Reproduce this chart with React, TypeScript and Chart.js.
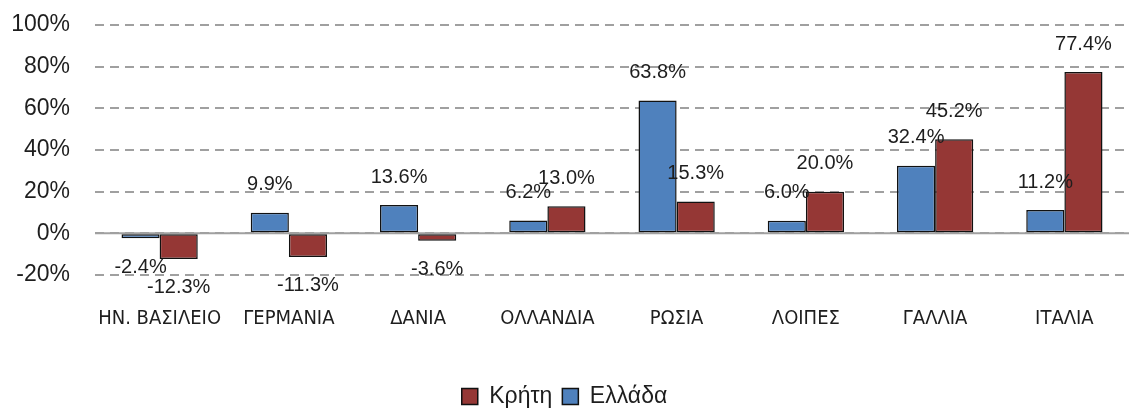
import React, { useEffect, useRef } from "react";
import { Chart, registerables } from "chart.js";

Chart.register(...registerables);

const categories = [
  "ΗΝ. ΒΑΣΙΛΕΙΟ",
  "ΓΕΡΜΑΝΙΑ",
  "ΔΑΝΙΑ",
  "ΟΛΛΑΝΔΙΑ",
  "ΡΩΣΙΑ",
  "ΛΟΙΠΕΣ",
  "ΓΑΛΛΙΑ",
  "ΙΤΑΛΙΑ",
];
const ellada = [-2.4, 9.9, 13.6, 6.2, 63.8, 6.0, 32.4, 11.2];
const kriti = [-12.3, -11.3, -3.6, 13.0, 15.3, 20.0, 45.2, 77.4];
const yMin = -20;
const yMax = 100;
const yStep = 20;

const TEXT = "#1e1e1e";

const labelPlugin = {
  id: "valueLabels",
  afterDatasetsDraw(chart: any) {
    const ctx = chart.ctx;
    ctx.save();
    ctx.font = "20px 'Liberation Sans', Arial, sans-serif";
    ctx.fillStyle = TEXT;
    ctx.textAlign = "center";
    ctx.textBaseline = "middle";
    chart.data.datasets.forEach((ds: any, di: number) => {
      const meta = chart.getDatasetMeta(di);
      meta.data.forEach((el: any, i: number) => {
        const v = ds.data[i];
        const y = v >= 0 ? el.y - 28 : el.y + 29;
        ctx.fillText(v.toFixed(1) + "%", el.x, y);
      });
    });
    ctx.restore();
  },
};

const zeroLinePlugin = {
  id: "zeroLine",
  beforeDatasetsDraw(chart: any) {
    const { ctx, chartArea, scales } = chart;
    const y = scales.y.getPixelForValue(0);
    ctx.save();
    ctx.strokeStyle = "#a0a0a0";
    ctx.lineWidth = 2;
    ctx.beginPath();
    ctx.moveTo(chartArea.left, y);
    ctx.lineTo(chartArea.right, y);
    ctx.stroke();
    ctx.restore();
  },
};

export default function App() {
  const ref = useRef<HTMLCanvasElement>(null);
  useEffect(() => {
    document.body.style.margin = "0";
    const chart = new Chart(ref.current!, {
      type: "bar",
      data: {
        labels: categories,
        datasets: [
          {
            label: "Ελλάδα",
            data: ellada,
            backgroundColor: "#4f81bd",
            borderColor: "#111",
            borderWidth: 1.5,
            borderSkipped: false,
            barPercentage: 1,
            categoryPercentage: 0.59,
          },
          {
            label: "Κρήτη",
            data: kriti,
            backgroundColor: "#953735",
            borderColor: "#111",
            borderWidth: 1.5,
            borderSkipped: false,
            barPercentage: 1,
            categoryPercentage: 0.59,
          },
        ],
      },
      options: {
        animation: false,
        responsive: false,
        maintainAspectRatio: false,
        layout: { padding: { top: 25, left: 0, right: 0, bottom: -8 } },
        plugins: {
          tooltip: { enabled: false },
          legend: {
            position: "bottom",
            reverse: true,
            labels: {
              font: { family: "'Liberation Sans', Arial, sans-serif", size: 23 },
              color: TEXT,
              boxWidth: 16,
              boxHeight: 16,
              padding: 10,
            },
          },
        },
        scales: {
          x: {
            grid: { display: false },
            border: { display: false },
            ticks: {
              color: TEXT,
              padding: 24,
              font: { family: "'Liberation Sans Narrow', 'DejaVu Sans Condensed', sans-serif", size: 20 },
              maxRotation: 0,
              autoSkip: false,
            },
            afterFit(scale: any) {
              scale.height = 100;
              scale.paddingLeft = 0;
              scale.paddingRight = 0;
            },
          },
          y: {
            min: yMin,
            max: yMax,
            grid: {
              color: "#a0a0a0",
              lineWidth: 2,
              drawTicks: false,
            },
            border: { display: false, dash: [9, 6] },
            ticks: {
              stepSize: yStep,
              color: TEXT,
              padding: 25,
              font: { family: "'Liberation Sans', Arial, sans-serif", size: 23 },
              callback: (v: any) => v + "%",
            },
            afterFit(scale: any) {
              scale.width = 95;
              scale.paddingTop = 0;
              scale.paddingBottom = 0;
            },
          },
        },
      },
      plugins: [zeroLinePlugin, labelPlugin],
    });
    return () => chart.destroy();
  }, []);
  return (
    <div style={{ position: "absolute", left: 0, top: 0, width: 1129, height: 410, background: "#fff" }}>
      <canvas ref={ref} width={1129} height={410} />
    </div>
  );
}
